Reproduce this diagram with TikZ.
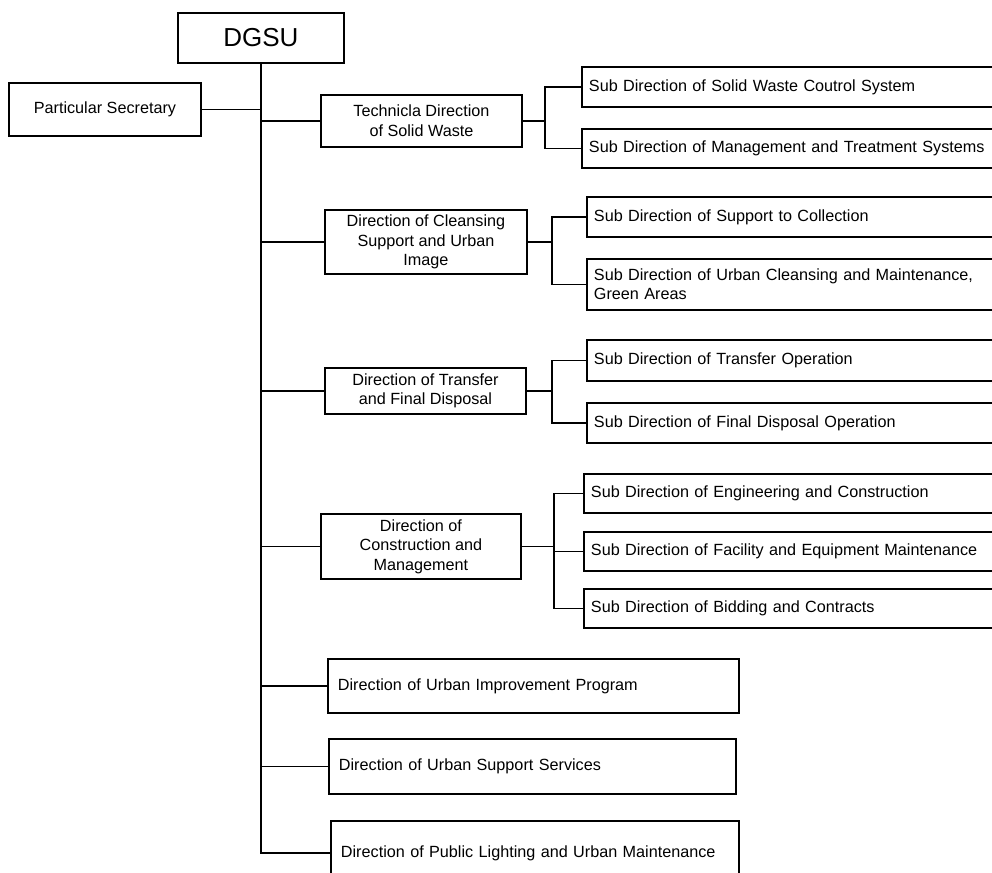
\documentclass[tikz,border=0pt]{standalone}
\usepackage{fontspec}
\setmainfont{Liberation Sans}
\newcommand{\fs}{\fontsize{16.2}{19.5}\selectfont}
\begin{document}
\begin{tikzpicture}[x=1pt,y=-1pt,
  box/.style={draw, line width=1.9pt, anchor=north west, inner ysep=0pt, font=\fs},
  subbox/.style={box, inner xsep=7pt, text width=506pt, align=left, minimum height=#1},
  midbox/.style={box, inner xsep=0pt, align=center},
  lowbox/.style={box, inner xsep=10pt, align=left},
  link/.style={line width=1.8pt},
  trunk/.style={line width=2.6pt}]
\fill[white] (0,0) rectangle (992,872);
\useasboundingbox (0,0) rectangle (992,872);
\clip (0,0) rectangle (992,872);

% top of the hierarchy
\node[box, inner xsep=0pt, minimum width=166pt, minimum height=50pt,
      font=\fontsize{26}{30}\selectfont] (dgsu) at (177,12) {DGSU};
\node[midbox, minimum width=192pt, minimum height=53pt] (sec) at (8,82) {Particular Secretary};

% directions with their sub directions
\node[midbox, minimum width=201pt, minimum height=52pt] (tech) at (320,94) {Technicla Direction\\of Solid Waste};
\node[subbox=40pt] (s11) at (581,66) {Sub Direction of Solid Waste Coutrol System};
\node[subbox=39pt] (s12) at (581,128) {Sub Direction of Management and Treatment Systems};

\node[midbox, minimum width=202pt, minimum height=64pt] (clean) at (324,209) {Direction of Cleansing\\Support and Urban\\Image};
\node[subbox=40pt] (s21) at (586,196) {Sub Direction of Support to Collection};
\node[subbox=51pt] (s22) at (586,258) {Sub Direction of Urban Cleansing and Maintenance,\\Green Areas};

\node[midbox, minimum width=201pt, minimum height=46pt] (trans) at (324,367) {Direction of Transfer\\and Final Disposal};
\node[subbox=41pt] (s31) at (586,339) {Sub Direction of Transfer Operation};
\node[subbox=40pt] (s32) at (586,402) {Sub Direction of Final Disposal Operation};

\node[midbox, minimum width=200pt, minimum height=65pt] (cons) at (320,513) {Direction of\\Construction and\\Management};
\node[subbox=39pt] (s41) at (583,473) {Sub Direction of Engineering and Construction};
\node[subbox=39pt] (s42) at (583,531) {Sub Direction of Facility and Equipment Maintenance};
\node[subbox=39pt] (s43) at (583,588) {Sub Direction of Bidding and Contracts};

% directions without sub directions
\node[lowbox, text width=391pt, minimum height=54pt] (urb) at (327,658) {Direction of Urban Improvement Program};
\node[lowbox, text width=387pt, minimum height=55pt] (sup) at (328,738) {Direction of Urban Support Services};
\node[lowbox, text width=388pt, minimum height=64pt] (pub) at (330,820) {Direction of Public Lighting and Urban Maintenance};

% main trunk
\draw[trunk] (dgsu.south) -- (dgsu.south |- pub.west) -- (pub.west);
\draw[link] (sec.east) -- (sec.east -| dgsu.south);
\foreach \n in {tech,clean,trans,cons,urb,sup}
  \draw[link] (dgsu.south |- \n.west) -- (\n.west);

% brackets to the sub directions
\draw[link] (tech.east) -- ++(22,0) coordinate (b1);
\draw[link] (s11.west) -| (b1);
\draw[link] (s12.west) -| (b1);

\draw[link] (clean.east) -- ++(24,0) coordinate (b2);
\draw[link] (s21.west) -| (b2);
\draw[link] (s22.west) -| (b2);

\draw[link] (trans.east) -- ++(25,0) coordinate (b3);
\draw[link] (s31.west) -| (b3);
\draw[link] (s32.west) -| (b3);

\draw[link] (cons.east) -- ++(32,0) coordinate (b4);
\draw[link] (s41.west) -| (b4);
\draw[link] (s42.west) -- (s42.west -| b4);
\draw[link] (s43.west) -| (b4);
\end{tikzpicture}
\end{document}
